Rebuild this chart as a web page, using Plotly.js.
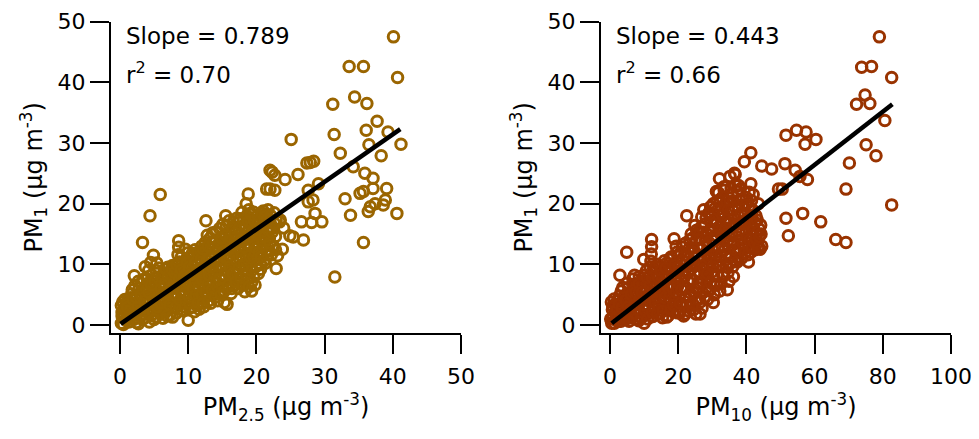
<!DOCTYPE html>
<html><head><meta charset="utf-8">
<script src="https://cdn.plot.ly/plotly-3.0.1.min.js"></script>
<style>html,body{margin:0;padding:0;background:#fff}#chart{width:979px;height:439px}</style>
</head><body><div id="chart"></div>
<script>
// PM2.5 (x) vs PM1 (y)
const pm25Pairs = [
[0.2,0.3],[0.5,1.2],[0.3,2.1],[0.8,3.0],[0.4,3.8],[0.9,0.8],[0.6,2.6],[1.0,1.7],[0.3,1.5],[0.7,4.2],
[1.3,0.5],[1.6,1.4],[1.2,2.4],[1.8,3.3],[1.5,4.5],[1.9,2.0],[1.4,3.7],[2.0,0.9],[1.7,5.1],
[2.3,1.2],[2.6,2.3],[2.2,3.4],[2.9,4.1],[2.5,5.0],[2.8,6.0],[2.4,0.4],[3.0,2.8],[2.7,7.2],[2.1,8.1],
[3.3,0.9],[3.6,1.8],[3.2,3.1],[3.9,4.2],[3.5,5.3],[3.8,6.4],[3.4,7.5],[3.7,9.6],[3.3,13.6],[4.0,2.5],
[4.3,0.5],[4.6,1.6],[4.2,2.8],[4.9,3.6],[4.5,4.9],[4.8,6.0],[4.4,7.1],[4.7,8.2],[4.5,10.3],[4.9,11.5],[4.4,18.0],
[5.3,1.3],[5.6,2.4],[5.2,3.5],[5.9,4.4],[5.5,5.6],[5.8,6.8],[5.4,7.8],[5.7,9.4],[5.9,21.5],[6.0,2.0],
[6.3,1.1],[6.6,3.0],[6.2,4.2],[6.9,5.1],[6.5,6.3],[6.8,7.4],[6.4,8.6],[6.7,2.2],[7.0,9.5],
[7.3,1.6],[7.6,2.8],[7.2,4.0],[7.9,5.2],[7.5,6.4],[7.8,7.5],[7.4,8.7],[7.7,9.8],[8.0,3.5],
[8.3,2.0],[8.6,3.2],[8.2,4.5],[8.9,5.6],[8.5,6.9],[8.8,8.0],[8.4,9.2],[8.7,10.4],[8.5,11.6],[8.6,12.8],[8.6,13.9],[8.9,7.3],
[9.3,2.4],[9.6,3.6],[9.2,4.9],[9.9,6.0],[9.5,7.2],[9.8,8.4],[9.4,9.6],[9.7,10.8],[10.0,11.9],[10.0,0.8],
[10.3,2.8],[10.6,4.1],[10.2,5.3],[10.9,6.5],[10.5,7.7],[10.8,8.9],[10.4,10.1],[10.7,11.3],[11.0,12.4],[10.6,3.0],
[11.3,3.2],[11.6,4.4],[11.2,5.7],[11.9,6.9],[11.5,8.1],[11.8,9.3],[11.4,10.5],[11.7,11.8],[12.0,13.0],[11.6,2.6],
[12.3,3.0],[12.6,4.6],[12.2,6.1],[12.9,7.3],[12.5,8.6],[12.8,9.8],[12.4,11.0],[12.7,12.3],[12.5,13.6],[12.8,14.8],[12.6,17.2],
[13.3,3.6],[13.6,5.0],[13.2,6.5],[13.9,7.8],[13.5,9.0],[13.8,10.3],[13.4,11.5],[13.7,12.8],[14.0,14.0],[13.6,15.2],
[14.3,4.0],[14.6,5.5],[14.2,6.9],[14.9,8.2],[14.5,9.5],[14.8,10.8],[14.4,12.1],[14.7,13.4],[15.0,14.6],[14.6,15.9],
[15.3,3.7],[15.7,3.4],[15.6,6.0],[15.2,7.4],[15.9,8.7],[15.5,10.0],[15.8,11.3],[15.4,12.6],[15.7,13.9],[16.0,15.2],[15.6,16.4],[15.5,18.0],
[16.3,5.2],[16.6,6.5],[16.2,7.9],[16.9,9.2],[16.5,10.5],[16.8,11.8],[16.4,13.1],[16.7,14.4],[17.0,15.7],[16.6,17.0],
[17.3,6.0],[17.6,7.0],[17.2,8.4],[17.9,9.7],[17.5,11.0],[17.8,12.3],[17.4,13.6],[17.7,14.9],[18.0,16.2],[17.6,17.5],[17.9,18.6],
[18.3,5.5],[18.6,7.5],[18.2,8.9],[18.9,10.2],[18.5,11.5],[18.8,12.8],[18.4,14.1],[18.7,15.4],[19.0,16.7],[18.6,18.0],[18.9,19.0],[18.5,20.0],[18.8,21.6],
[19.3,5.6],[19.6,8.0],[19.2,9.5],[19.9,10.8],[19.5,12.1],[19.8,13.4],[19.4,14.7],[19.7,16.0],[20.0,17.3],[19.6,18.6],[19.3,7.0],
[20.3,8.5],[20.6,10.0],[20.2,11.4],[20.9,12.7],[20.5,14.0],[20.8,15.3],[20.4,16.6],[20.7,17.9],[21.0,18.8],[20.6,9.2],
[21.3,10.2],[21.6,11.6],[21.2,13.0],[21.9,14.3],[21.5,15.6],[21.8,16.9],[21.4,18.2],[21.7,19.0],[22.0,22.4],[22.3,25.2],[21.9,12.2],
[22.5,13.0],[22.8,14.6],[22.4,16.0],[22.9,17.3],[22.6,18.5],[23.1,11.4],[23.4,17.0],[22.9,9.3],
[40.1,47.5],[33.6,42.6],[35.7,42.6],[40.7,40.8],[31.2,36.4],[34.4,37.6],[36.2,36.5],[37.7,33.6],[36.1,32.1],[39.3,31.8],
[31.4,31.4],[25.1,30.6],[41.2,29.8],[36.5,29.7],[32.3,28.3],[38.3,27.9],[27.9,26.8],[28.4,27.0],[27.4,26.7],[34.2,26.1],
[35.9,25.0],[22.0,25.5],[22.7,24.7],[24.2,24.0],[26.1,24.8],[21.5,22.4],[22.7,22.2],[29.1,23.3],[37.1,24.2],[37.1,22.5],
[39.1,22.5],[35.7,22.0],[35.2,21.7],[27.6,22.2],[28.3,20.6],[27.6,20.3],[33.0,20.8],[38.9,20.6],[38.6,19.8],[36.7,19.5],
[36.4,18.7],[37.4,20.0],[33.8,18.1],[40.6,18.4],[28.6,18.4],[26.6,17.0],[28.1,16.9],[29.6,17.0],[35.7,13.6],[23.5,17.3],
[25.4,14.5],[26.9,14.0],[31.5,7.9],[24.9,14.7],[24.0,16.0],[23.8,12.5],
[0.5,0.1],[0.9,2.2],[0.2,3.2],[1.1,4.0],[1.4,1.0],[1.1,2.9],[1.9,4.2],[2.1,1.8],[1.8,5.8],[2.4,4.5],[2.6,3.0],[2.2,6.5],
[2.9,1.5],[3.1,5.0],[3.4,2.3],[2.7,0.2],[3.6,4.0],[3.1,6.9],[3.9,5.8],[3.7,1.2],[4.1,3.4],[4.2,5.4],[4.0,7.6],[4.6,6.6],
[4.8,2.3],[4.2,9.0],[5.0,4.2],[5.1,7.2],[5.3,9.0],[5.0,0.9],[5.5,3.0],[5.7,5.0],[5.4,10.2],[6.0,6.0],[6.1,7.9],[6.0,3.6],
[6.4,5.2],[6.7,9.2],[6.9,1.5],[6.6,6.9],[7.0,4.4],[7.1,8.0],[7.3,3.3],[7.4,5.8],[7.6,9.2],[7.7,1.3],[7.9,6.9],[8.0,8.6],
[8.1,4.9],[8.3,10.0],[8.2,2.9],[8.4,6.3],[8.7,7.6],[8.8,4.1],[9.0,9.1],[9.1,2.5],[9.0,11.2],[9.2,6.5],[9.4,8.0],[9.6,5.3],
[9.8,10.2],[9.5,3.0],[9.6,12.5],[10.0,7.0],[10.1,9.5],[10.2,3.6],[10.1,4.7],[10.4,8.3],[10.6,11.8],[10.7,6.0],[10.9,2.2],
[11.0,10.2],[11.0,7.2],[11.1,4.9],[11.3,9.0],[11.4,12.0],[11.5,3.7],[11.6,6.3],[11.9,10.9],[11.9,8.7],[12.0,5.0],[12.2,12.5],
[12.1,7.4],[12.2,3.6],[12.4,9.3],[12.6,5.4],[12.7,10.6],[12.9,13.0],[12.9,6.7],[13.0,4.0],[13.1,8.2],[13.1,11.0],[13.2,14.3],
[13.4,9.6],[13.5,5.8],[13.7,7.1],[13.7,13.6],[13.9,11.9],[14.0,4.6],[14.1,9.2],[14.1,15.3],[14.2,10.5],[14.3,6.3],[14.4,13.0],
[14.6,7.6],[14.8,11.7],[14.9,14.3],[14.8,5.0],[15.0,9.8],[15.1,16.6],[15.2,12.1],[15.3,5.6],[15.4,8.2],[15.6,14.7],[15.7,10.8],
[15.9,6.6],[16.0,12.4],[16.0,17.2],[16.1,9.6],[16.2,14.5],[16.4,6.0],[16.5,16.0],[16.6,8.5],[16.8,12.6],[16.9,15.1],[17.0,7.1],
[17.1,10.6],[17.1,17.6],[17.3,12.8],[17.4,9.3],[17.5,16.0],[17.7,7.8],[17.8,14.0],[17.9,11.4],[18.1,17.3],[18.0,6.6],[18.2,10.0],
[18.3,12.8],[18.4,16.2],[18.5,8.4],[18.7,13.5],[18.8,17.1],[18.9,6.3],[19.0,11.4],[19.1,14.6],[19.2,18.2],[19.3,9.0],[19.5,15.5],
[19.6,11.2],[19.7,17.2],[19.8,6.6],[20.0,12.6],[20.0,9.7],[20.1,14.8],[20.2,18.1],[20.4,12.0],[20.5,16.1],[20.7,11.2],[20.8,18.4],
[20.9,13.9],[21.0,16.3],[21.1,10.6],[21.2,17.8],[21.3,14.6],[21.5,12.4],[21.6,17.4],[21.8,15.6],[22.0,13.5],[22.1,18.0],[22.2,11.6],
[22.3,15.3],[22.6,16.8],[22.8,12.4]
];
// PM10 (x) vs PM1 (y)
const pm10Pairs = [
[0.5,0.3],[1.0,1.4],[0.7,2.5],[1.5,3.4],[1.2,4.3],[1.8,0.8],[1.6,2.0],[0.4,3.8],
[2.5,0.6],[3.0,1.7],[2.3,2.8],[3.6,3.6],[2.8,4.8],[3.3,5.6],[2.9,8.2],[3.8,2.2],
[4.5,0.9],[5.2,2.0],[4.3,3.2],[5.8,4.0],[4.9,5.1],[5.5,6.2],[4.9,12.0],[5.9,1.2],
[6.5,1.2],[7.1,2.4],[6.3,3.6],[7.8,4.5],[6.9,5.7],[7.5,6.8],[6.7,7.6],[7.9,1.0],
[8.4,0.7],[9.0,2.0],[8.3,3.3],[9.7,4.6],[8.8,5.9],[9.4,7.0],[8.6,8.0],[9.9,10.8],[10.0,0.3],
[10.5,1.6],[11.2,3.0],[10.3,4.3],[11.8,5.6],[10.9,6.8],[11.5,8.0],[10.7,9.0],[12.0,10.5],[12.1,11.7],[12.2,12.9],[12.2,14.1],
[12.6,1.4],[13.3,2.8],[12.5,4.2],[13.9,5.5],[13.0,6.9],[13.6,8.1],[12.8,9.3],[14.0,10.0],[13.8,3.5],
[14.5,1.8],[15.2,3.1],[14.4,4.5],[15.9,5.8],[15.0,7.2],[15.6,8.4],[14.7,9.6],[16.0,10.6],[15.4,1.2],
[16.5,2.5],[17.2,3.8],[16.3,5.2],[17.8,6.5],[16.9,7.8],[17.5,9.0],[16.7,10.2],[17.9,11.2],[17.0,1.5],
[18.5,2.2],[19.2,3.5],[18.3,4.9],[19.8,6.3],[18.9,7.6],[19.5,8.9],[18.7,10.1],[19.9,11.4],[19.4,13.0],[18.8,14.2],
[20.5,2.0],[21.2,3.4],[20.3,4.8],[21.8,6.2],[20.9,7.6],[21.5,8.9],[20.7,10.2],[21.9,11.5],[21.3,12.8],[22.0,1.8],[22.5,18.0],
[22.6,3.2],[23.3,4.6],[22.4,6.0],[23.9,7.4],[23.0,8.8],[23.6,10.1],[22.8,11.4],[24.0,12.7],[23.4,14.0],[23.8,15.0],
[24.5,2.5],[25.2,4.0],[24.3,5.5],[25.9,7.0],[25.0,8.4],[25.6,9.8],[24.7,11.2],[26.0,12.6],[25.3,14.0],[25.8,15.3],[24.9,16.4],
[26.4,1.8],[26.5,3.8],[27.2,5.3],[26.3,6.8],[27.8,8.3],[26.9,9.7],[27.5,11.1],[26.7,12.5],[28.0,13.9],[27.3,15.3],[27.8,16.6],[26.9,17.8],[27.5,19.0],
[28.6,4.2],[29.2,5.7],[28.4,7.2],[29.8,8.7],[29.0,10.1],[29.6,11.5],[28.7,12.9],[30.0,14.3],[29.3,15.7],[29.8,17.0],[28.9,18.4],[29.5,19.5],[30.3,3.7],
[30.6,5.0],[31.3,6.6],[30.4,8.1],[31.8,9.6],[31.0,11.1],[31.6,12.5],[30.7,13.9],[32.0,15.3],[31.3,16.7],[31.8,18.1],[30.9,19.3],[31.5,20.5],[31.8,21.8],[32.1,24.1],
[32.6,6.8],[33.3,8.4],[32.4,9.9],[33.9,11.4],[33.0,12.9],[33.6,14.3],[32.7,15.7],[34.0,17.1],[33.3,18.5],[33.8,19.8],[32.9,21.0],[33.5,22.2],[34.4,5.8],
[34.6,8.6],[35.3,10.2],[34.4,11.7],[35.9,13.2],[35.0,14.7],[35.6,16.1],[34.7,17.5],[36.0,18.9],[35.3,20.3],[35.8,21.7],[35.2,24.5],[36.7,24.8],
[36.2,8.0],[36.6,10.5],[37.3,12.1],[36.4,13.6],[37.9,15.1],[37.0,16.6],[37.6,18.0],[36.7,19.4],[38.0,20.6],[37.3,22.0],[37.7,23.0],
[38.6,11.0],[39.3,12.5],[38.4,14.0],[39.9,15.5],[39.0,17.0],[39.6,18.4],[38.7,19.7],[40.0,21.0],[39.4,26.9],
[40.6,10.4],[41.3,12.0],[40.4,13.5],[41.8,15.0],[41.0,16.5],[41.6,18.0],[40.7,19.5],[41.3,28.4],[41.5,20.5],
[42.6,12.4],[43.3,13.6],[44.0,12.5],[43.8,15.8],[43.0,15.0],[44.2,16.5],[42.8,18.0],[43.5,20.0],[44.5,13.0],[42.0,21.5],[41.3,23.3],
[79.0,47.5],[73.8,42.5],[76.7,42.6],[82.6,40.8],[74.8,37.9],[72.3,36.4],[76.2,36.5],[80.6,33.7],[75.1,29.7],[78.0,27.9],
[70.2,26.7],[69.2,22.4],[82.6,19.8],[51.6,31.3],[54.7,32.1],[57.5,31.8],[60.4,30.6],[57.2,29.8],[44.5,26.2],[47.4,25.7],
[51.3,26.6],[54.3,25.5],[55.7,24.5],[57.9,24.0],[49.4,22.4],[51.6,17.6],[56.5,18.4],[61.8,17.0],[52.3,14.7],[66.2,14.1],
[69.2,13.6],[50.5,22.4],[36.5,25.0],
[0.2,1.0],[1.3,0.3],[0.8,3.1],[2.0,2.6],[2.2,4.0],[1.9,1.3],[3.2,0.6],[2.7,3.4],[4.0,4.6],[3.5,2.8],[4.1,1.5],[4.7,4.1],
[3.8,6.2],[5.3,3.0],[5.0,6.9],[6.0,2.5],[6.2,5.0],[5.6,0.6],[7.3,3.4],[6.8,6.6],[7.6,5.4],[8.1,2.6],[7.2,8.2],[8.7,4.3],
[8.5,6.8],[9.2,1.2],[9.5,5.4],[9.8,3.3],[9.9,8.2],[10.3,2.4],[10.6,5.4],[10.9,7.8],[11.0,1.0],[11.5,4.2],[11.8,9.5],[11.7,6.5],
[12.3,2.2],[12.6,5.0],[12.4,7.8],[13.2,3.8],[13.4,9.6],[13.6,6.2],[13.9,1.8],[14.2,7.8],[14.3,3.0],[14.8,5.4],[15.0,9.0],[15.5,2.3],
[15.8,6.9],[16.1,4.5],[16.3,9.4],[16.6,1.3],[17.0,6.2],[17.4,4.6],[17.6,10.8],[17.8,2.6],[18.2,8.1],[18.4,6.0],[18.6,3.3],[19.0,9.8],
[19.3,5.4],[19.6,12.0],[19.8,2.0],[20.1,7.0],[20.2,9.5],[20.6,3.6],[20.8,12.0],[21.0,5.8],[21.4,10.6],[21.6,1.5],[21.9,8.0],[22.2,13.5],
[22.3,4.6],[22.6,10.4],[22.9,7.2],[23.1,2.3],[23.2,12.6],[23.5,5.3],[23.8,9.2],[24.1,14.3],[24.2,3.6],[24.4,7.4],[24.6,12.0],[24.9,9.8],
[25.2,1.8],[25.4,15.6],[25.5,6.2],[25.7,11.2],[26.0,4.2],[26.1,8.6],[26.3,14.2],[26.6,10.6],[26.8,16.2],[27.0,2.8],[27.1,7.1],[27.4,13.0],
[27.6,9.2],[27.9,4.6],[28.1,11.9],[28.2,17.6],[28.4,15.0],[28.6,8.5],[28.8,5.8],[29.0,13.6],[29.2,10.9],[29.4,18.4],[29.5,7.0],[29.8,15.8],
[30.0,12.4],[30.2,9.6],[30.3,20.0],[30.5,6.6],[30.6,17.4],[30.9,14.8],[31.1,10.4],[31.2,22.0],[31.4,8.3],[31.6,19.0],[31.9,12.9],[32.0,16.2],
[32.2,5.6],[32.3,20.4],[32.5,11.4],[32.8,14.6],[33.0,18.0],[33.1,8.0],[33.4,22.8],[33.6,12.4],[33.9,16.0],[34.1,9.6],[34.2,20.4],[34.5,13.9],
[34.7,19.0],[34.9,7.2],[35.1,16.8],[35.3,11.2],[35.5,22.6],[35.8,15.0],[36.0,9.6],[36.2,20.4],[36.4,17.6],[36.6,12.4],[36.8,23.0],[37.1,14.6],
[37.3,10.4],[37.5,19.6],[37.8,16.8],[38.0,12.6],[38.2,22.4],[38.4,18.3],[38.6,15.4],[38.9,20.8],[39.1,13.4],[39.3,16.6],[39.6,11.9],[39.8,19.8],
[40.1,14.4],[40.3,17.6],[40.5,11.6],[40.8,21.9],[41.0,14.0],[41.2,17.4],[41.6,12.6],[41.8,19.0],[42.1,15.8],[42.3,13.6],[42.5,16.9],[42.9,14.2],
[43.2,17.3],[43.5,12.8],[43.8,14.6],[44.3,15.0]
];
// regression line end points
const fit25X = [0.1, 41.1], fit25Y = [0.2, 32.3];
const fit10X = [0.5, 82.8], fit10Y = [0.3, 36.4];
const slopeLabels = ["Slope = 0.789", "Slope = 0.443"];
const r2Labels = ["r<sup>2</sup> = 0.70", "r<sup>2</sup> = 0.66"];
const xTitles = ["PM<sub>2.5</sub> (µg m<sup>-3</sup>)", "PM<sub>10</sub> (µg m<sup>-3</sup>)"];
const yTitle = "PM<sub>1</sub> (µg m<sup>-3</sup>)";

const col25 = '#9A6500', col10 = '#993300';
const FONT = '"DejaVu Sans", Arial, sans-serif';

const traces = [
  {x: pm25Pairs.map(p=>p[0]), y: pm25Pairs.map(p=>p[1]), xaxis:'x', yaxis:'y', type:'scatter', mode:'markers',
   marker:{symbol:'circle-open', size:10.5, color:col25, line:{width:3, color:col25}}},
  {x: fit25X, y: fit25Y, xaxis:'x', yaxis:'y', type:'scatter', mode:'lines', line:{color:'#000', width:4.5}},
  {x: pm10Pairs.map(p=>p[0]), y: pm10Pairs.map(p=>p[1]), xaxis:'x2', yaxis:'y2', type:'scatter', mode:'markers',
   marker:{symbol:'circle-open', size:10.5, color:col10, line:{width:3, color:col10}}},
  {x: fit10X, y: fit10Y, xaxis:'x2', yaxis:'y2', type:'scatter', mode:'lines', line:{color:'#000', width:4.5}}
];

const W = 979, H = 439;
function ax(extra){
  return Object.assign({showgrid:false, zeroline:false, showline:true, linecolor:'#000', linewidth:2,
    ticks:'outside', ticklen:19, tickwidth:2, tickcolor:'#000',
    tickfont:{family:FONT, size:22, color:'#000'}}, extra);
}
const yDom = [1-333/H, 1-21.7/H];
const tFont = {family:FONT, size:24, color:'#000'};
const aFont = {family:FONT, size:23, color:'#000'};
const layout = {
  width:W, height:H, margin:{l:0,r:0,t:0,b:0}, showlegend:false,
  paper_bgcolor:'#fff', plot_bgcolor:'#fff', font:{family:FONT, color:'#000'},
  xaxis: ax({domain:[111/W, 461/W], range:[-1.32,50], dtick:10, anchor:'y', ticklabelstandoff:4,
    title:{text:xTitles[0], font:tFont, standoff:10}}),
  yaxis: ax({domain:yDom, range:[-1.32,50], dtick:10, anchor:'x',
    title:{text:yTitle, font:tFont, standoff:8}}),
  xaxis2: ax({domain:[601/W, 951/W], range:[-2.64,100], dtick:20, anchor:'y2', ticklabelstandoff:4,
    title:{text:xTitles[1], font:tFont, standoff:10}}),
  yaxis2: ax({domain:yDom, range:[-1.32,50], dtick:10, anchor:'x2',
    title:{text:yTitle, font:tFont, standoff:8}}),
  annotations: [
    {text:slopeLabels[0], xref:'paper', yref:'paper', x:124/W, y:1-36/H, xanchor:'left', yanchor:'middle', showarrow:false, font:aFont},
    {text:r2Labels[0], xref:'paper', yref:'paper', x:124/W, y:1-73/H, xanchor:'left', yanchor:'middle', showarrow:false, font:aFont},
    {text:slopeLabels[1], xref:'paper', yref:'paper', x:614/W, y:1-36/H, xanchor:'left', yanchor:'middle', showarrow:false, font:aFont},
    {text:r2Labels[1], xref:'paper', yref:'paper', x:614/W, y:1-73/H, xanchor:'left', yanchor:'middle', showarrow:false, font:aFont}
  ]
};
Plotly.newPlot('chart', traces, layout, {staticPlot:true, displayModeBar:false});
</script></body></html>
